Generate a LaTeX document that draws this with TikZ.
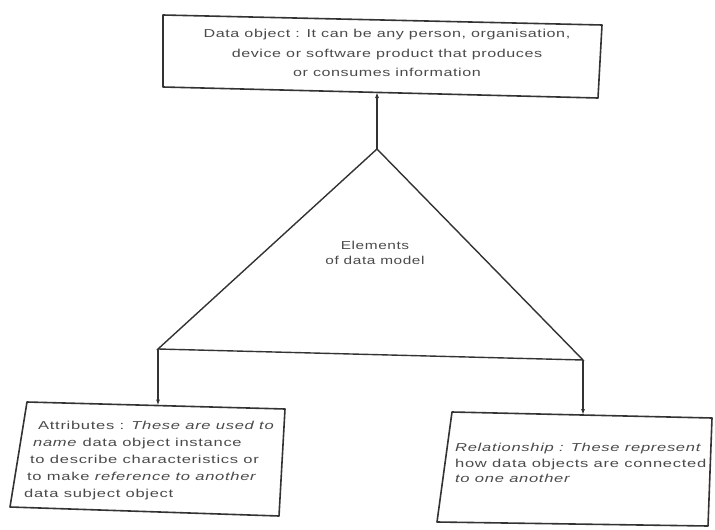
\documentclass[tikz,border=0pt]{standalone}
\usepackage{fontspec}
\setmainfont{Liberation Sans}
\newfontfamily\headsans[FakeStretch=1.40,LetterSpace=5]{Liberation Sans}
\newfontfamily\boxsans[FakeStretch=1.44,LetterSpace=6]{Liberation Sans}
\newfontfamily\midsans[FakeStretch=1.34,LetterSpace=5]{Liberation Sans}
\usetikzlibrary{arrows.meta}
\definecolor{ink}{HTML}{333333}
\definecolor{print}{HTML}{4A4A4A}
\begin{document}
\begin{tikzpicture}[x=1pt,y=-1pt,
  txt/.style={text=print, inner sep=0pt},
  frame/.style={draw=ink, line width=1.6pt, line join=round},
  link/.style={draw=ink, line width=1.1pt, -{Latex[length=6pt,width=4pt]}},
  tri/.style={draw=ink, line width=1.4pt, line join=miter}]
  \useasboundingbox (0,0) rectangle (715,530);

  % data object box
  \coordinate (o1) at (163,15);  \coordinate (o2) at (602,25);
  \coordinate (o3) at (598,98);  \coordinate (o4) at (163,87);
  \draw[frame] (o1) -- (o2) -- (o3) -- (o4) -- cycle;
  \node[txt, align=center, font=\headsans\fontsize{11.5}{19.5}\selectfont] (obj) at (387,53)
    {Data object : It can be any person, organisation,\\
     device or software product that produces\\
     or consumes information};

  % attributes box
  \coordinate (a1) at (27,402);  \coordinate (a2) at (285,409);
  \coordinate (a3) at (279,516); \coordinate (a4) at (10,507);
  \draw[frame] (a1) -- (a2) -- (a3) -- (a4) -- cycle;
  \node[txt, anchor=north west, align=left, font=\boxsans\fontsize{11.5}{17}\selectfont] (attr) at (24,421)
    {\hspace*{14pt}Attributes : \textit{These are used to}\\
     \hspace*{9pt}\textit{name} data object instance\\
     \hspace*{6pt}to describe characteristics or\\
     \hspace*{3pt}to make \textit{reference to another}\\
     data subject object};

  % relationship box
  \coordinate (r1) at (452,412); \coordinate (r2) at (712,418);
  \coordinate (r3) at (708,526); \coordinate (r4) at (437,522);
  \draw[frame] (r1) -- (r2) -- (r3) -- (r4) -- cycle;
  \node[txt, anchor=north west, align=left, font=\boxsans\fontsize{11.5}{15.5}\selectfont] (rel) at (455,443)
    {\textit{Relationship : These represent}\\
     how data objects are connected\\
     \textit{to one another}};

  % central triangle
  \coordinate (apex) at (377,149);
  \coordinate (lv) at (158,349);
  \coordinate (rv) at (583,360);
  \draw[tri] (apex) -- (lv) -- (rv) -- cycle;
  \node[txt, align=center, font=\midsans\fontsize{11.5}{15}\selectfont] (elem) at (375,253)
    {Elements\\of data model};

  % connectors
  \coordinate (objin) at (377,92);
  \coordinate (attrin) at (158,405.5);
  \coordinate (relin) at (583,415);
  \draw[link] (apex) -- (objin);
  \draw[link] (lv) -- (attrin);
  \draw[link] (rv) -- (relin);
\end{tikzpicture}
\end{document}
